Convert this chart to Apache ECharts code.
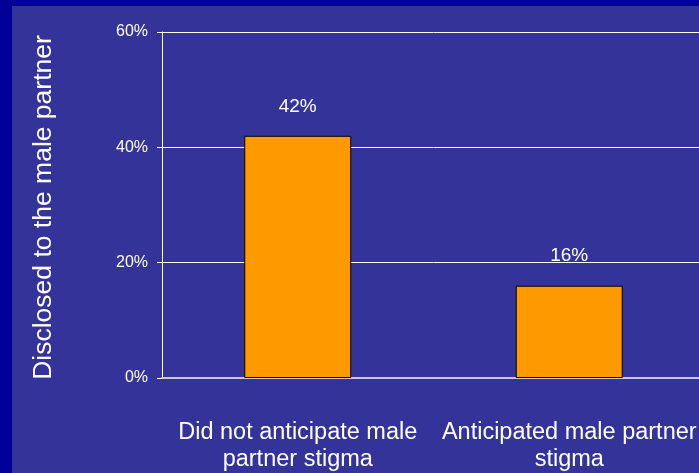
<!DOCTYPE html>
<html><head><meta charset="utf-8">
<script src="https://cdn.jsdelivr.net/npm/echarts@6/dist/echarts.min.js"></script>
<style>
html,body{margin:0;padding:0;background:#000099;width:699px;height:473px;overflow:hidden;position:relative;}
#c{position:absolute;left:12px;top:6px;width:700px;height:467px;}
</style></head>
<body><div id="c"></div>
<script>
const categories = ["Did not anticipate male\npartner stigma", "Anticipated male partner\nstigma"];
const values = [0.42, 0.16];
const yTicks = [0, 0.2, 0.4, 0.6];
const yTitle = "Disclosed to the male partner";

const chart = echarts.init(document.getElementById('c'));
chart.setOption({
  backgroundColor: '#333399',
  animation: false,
  textStyle: {fontFamily: 'Liberation Sans, Arial, sans-serif'},
  grid: {left: 150, top: 26, width: 543, height: 346, containLabel: false},
  xAxis: {
    type: 'category', data: categories,
    axisLine: {show: true, lineStyle: {color: '#c8c8d8', width: 2}},
    axisTick: {show: false},
    axisLabel: {color: '#ffffff', fontSize: 23.5, lineHeight: 27, margin: 41, interval: 0}
  },
  yAxis: {
    type: 'value', min: yTicks[0], max: yTicks[yTicks.length - 1], interval: 0.2,
    name: yTitle, nameLocation: 'middle', nameGap: 105, nameRotate: 90,
    nameTextStyle: {color: '#ffffff', fontSize: 26.5, padding: [0, 5, 0, 0]},
    axisLine: {show: true, lineStyle: {color: '#ffffff', width: 1}},
    axisTick: {show: true, length: 5, lineStyle: {color: '#ffffff'}},
    axisLabel: {color: '#ffffff', fontSize: 16, margin: 14, formatter: v => Math.round(v * 100) + '%'},
    splitLine: {show: true, lineStyle: {color: '#ffffff', width: 1}}
  },
  series: [{
    type: 'bar', data: values, barWidth: '39.4%',
    itemStyle: {color: '#ff9900', borderColor: '#000000', borderWidth: 1},
    label: {show: true, position: 'top', distance: 20, color: '#ffffff', fontSize: 19,
      formatter: p => Math.round(p.value * 100) + '%'}
  }]
});
</script></body></html>
